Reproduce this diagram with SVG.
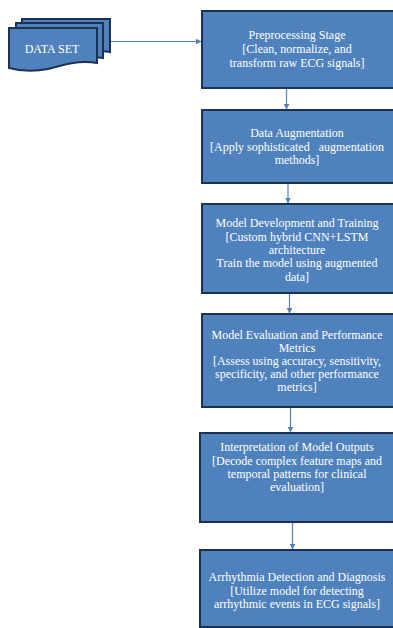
<svg xmlns="http://www.w3.org/2000/svg" width="393" height="628" viewBox="0 0 393 628">
<style>
.box{fill:#4f81bd;stroke:#1d3252;stroke-width:2}
.doc{fill:#4f81bd;stroke:#1d3252;stroke-width:2}
.t{font-family:"Liberation Serif","Times New Roman",serif;font-size:12px;fill:#ffffff;text-anchor:middle}
.c{stroke:#4f81bd;stroke-width:1.2;fill:none}
</style>
<defs>
<marker id="ah" viewBox="0 0 10 10" refX="9" refY="5" markerWidth="6" markerHeight="6" markerUnits="userSpaceOnUse" orient="auto">
<path d="M0,0 L10,5 L0,10 Z" fill="#4f81bd"/>
</marker>
</defs>
<rect width="393" height="628" fill="#ffffff"/>
<g id="connectors">
<line class="c" x1="110" y1="41.5" x2="201" y2="41.5" marker-end="url(#ah)"/>
<line class="c" x1="286.5" y1="89" x2="286.5" y2="109" marker-end="url(#ah)"/>
<line class="c" x1="288" y1="184" x2="288" y2="203" marker-end="url(#ah)"/>
<line class="c" x1="289.5" y1="294" x2="289.5" y2="313" marker-end="url(#ah)"/>
<line class="c" x1="290.5" y1="408" x2="290.5" y2="432" marker-end="url(#ah)"/>
<line class="c" x1="292.5" y1="523" x2="292.5" y2="549" marker-end="url(#ah)"/>
</g>
<g id="dataset">
<path class="doc" d="M22,19 H110 V52 C100,50 92,52 84,55 L22,55 Z"/>
<path class="doc" d="M16,23 H103 V58 C93,56 85,58 77,61 L16,61 Z"/>
<path class="doc" d="M9,28 H97 V63 C78,60 62,65 48,69 C33,72 20,71 9,68 Z"/>
<text class="t" x="52" y="53">DATA SET</text>
</g>
<g id="preprocessing">
<rect class="box" x="202" y="11" width="192" height="77"/>
<text class="t" x="297" y="39">Preprocessing Stage</text>
<text class="t" x="297" y="53">[Clean, normalize, and</text>
<text class="t" x="297" y="67">transform raw ECG signals]</text>
</g>
<g id="augmentation">
<rect class="box" x="202" y="110" width="192" height="73"/>
<text class="t" x="297" y="137">Data Augmentation</text>
<text class="t" x="297" y="151" xml:space="preserve">[Apply sophisticated   augmentation</text>
<text class="t" x="297" y="164">methods]</text>
</g>
<g id="training">
<rect class="box" x="202" y="204" width="192" height="89"/>
<text class="t" x="297" y="227">Model Development and Training</text>
<text class="t" x="297" y="241">[Custom hybrid CNN+LSTM</text>
<text class="t" x="297" y="254">architecture</text>
<text class="t" x="297" y="267">Train the model using augmented</text>
<text class="t" x="297" y="281">data]</text>
</g>
<g id="evaluation">
<rect class="box" x="202" y="314" width="192" height="93"/>
<text class="t" x="297" y="339">Model Evaluation and Performance</text>
<text class="t" x="297" y="352">Metrics</text>
<text class="t" x="297" y="365">[Assess using accuracy, sensitivity,</text>
<text class="t" x="297" y="378">specificity, and other performance</text>
<text class="t" x="297" y="391">metrics]</text>
</g>
<g id="interpretation">
<rect class="box" x="200" y="433" width="194" height="89"/>
<text class="t" x="297" y="451">Interpretation of Model Outputs</text>
<text class="t" x="297" y="465">[Decode complex feature maps and</text>
<text class="t" x="297" y="478">temporal patterns for clinical</text>
<text class="t" x="297" y="491">evaluation]</text>
</g>
<g id="detection">
<rect class="box" x="200" y="550" width="194" height="77"/>
<text class="t" x="297" y="581">Arrhythmia Detection and Diagnosis</text>
<text class="t" x="297" y="595">[Utilize model for detecting</text>
<text class="t" x="297" y="608">arrhythmic events in ECG signals]</text>
</g>
</svg>
